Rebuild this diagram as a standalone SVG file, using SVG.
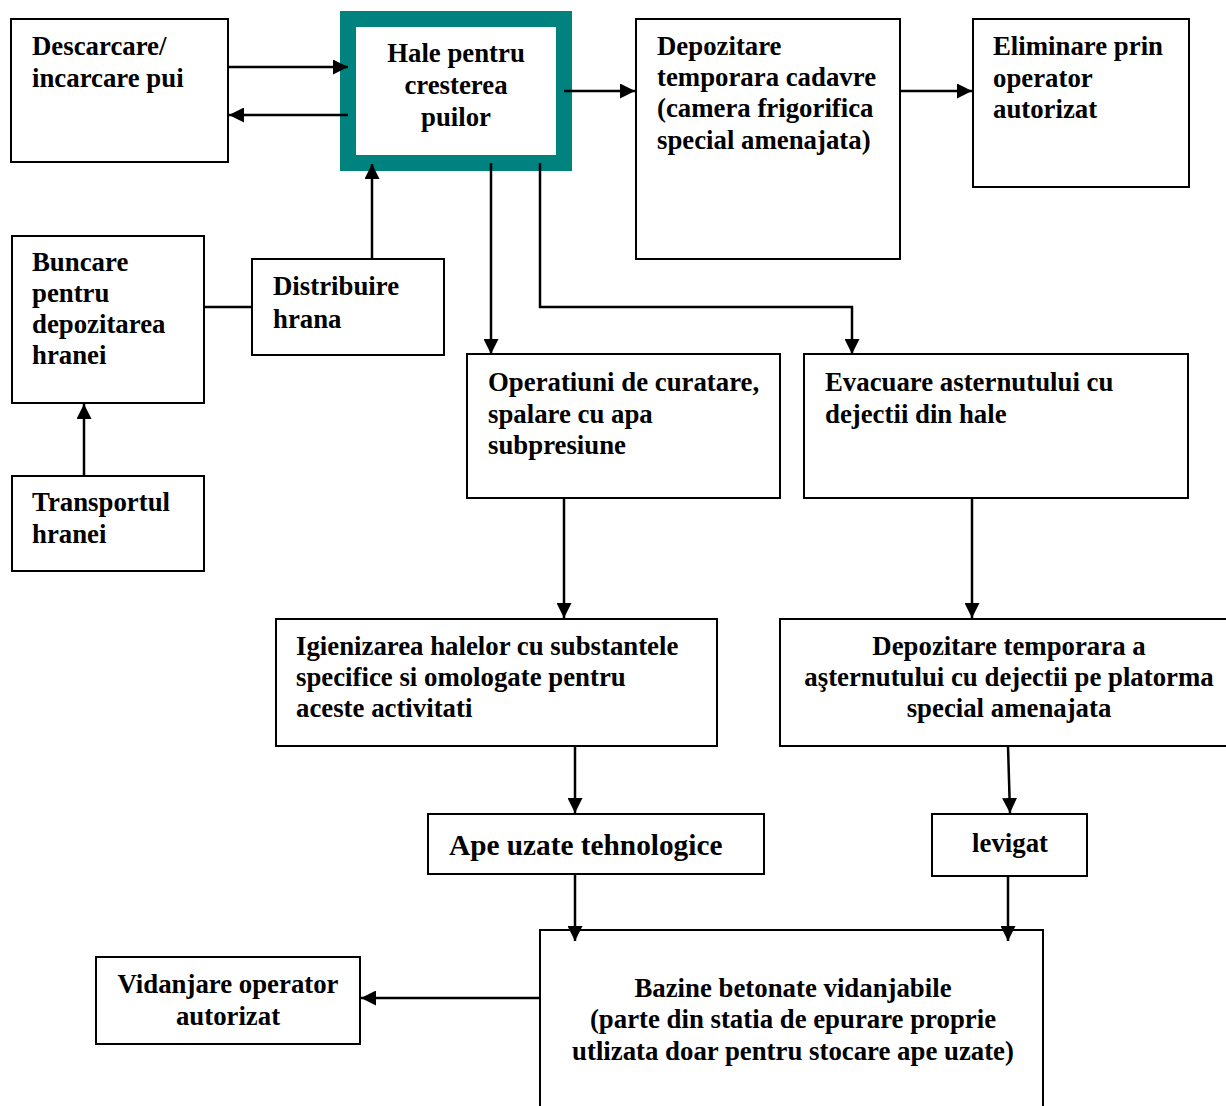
<svg xmlns="http://www.w3.org/2000/svg" width="1226" height="1106" viewBox="0 0 1226 1106">
<style>
.box{fill:#fff;stroke:#000;stroke-width:2}
.t{font-family:'Liberation Serif',serif;font-weight:bold;font-size:26.8px;fill:#000}
.c{text-anchor:middle}
.ln{fill:none;stroke:#000;stroke-width:2.5}
</style>
<defs>
<marker id="ah" viewBox="0 0 15 15" refX="15" refY="7.5" markerWidth="15" markerHeight="15" markerUnits="userSpaceOnUse" orient="auto">
<path d="M0,0 L15,7.5 L0,15 z" fill="#000"/>
</marker>
</defs>
<rect width="1226" height="1106" fill="#fff"/>

<g id="descarcare">
<rect class="box" x="11" y="19" width="217" height="143"/>
<text class="t" x="32" y="55" font-family="Liberation Serif">Descarcare/</text>
<text class="t" x="32" y="87" font-family="Liberation Serif">incarcare pui</text>
</g>

<g id="hale">
<rect x="348" y="19" width="216" height="144" fill="#fff" stroke="#00837f" stroke-width="16"/>
<text class="t c" x="456" y="62" font-family="Liberation Serif">Hale pentru</text>
<text class="t c" x="456" y="94" font-family="Liberation Serif">cresterea</text>
<text class="t c" x="456" y="126" font-family="Liberation Serif">puilor</text>
</g>

<g id="depozitare_cadavre">
<rect class="box" x="636" y="19" width="264" height="240"/>
<text class="t" x="657" y="55" font-family="Liberation Serif">Depozitare</text>
<text class="t" x="657" y="86" font-family="Liberation Serif">temporara cadavre</text>
<text class="t" x="657" y="117" font-family="Liberation Serif">(camera frigorifica</text>
<text class="t" x="657" y="149" font-family="Liberation Serif">special amenajata)</text>
</g>

<g id="eliminare">
<rect class="box" x="973" y="19" width="216" height="168"/>
<text class="t" x="993" y="55" font-family="Liberation Serif">Eliminare prin</text>
<text class="t" x="993" y="87" font-family="Liberation Serif">operator</text>
<text class="t" x="993" y="118" font-family="Liberation Serif">autorizat</text>
</g>

<g id="buncare">
<rect class="box" x="12" y="236" width="192" height="167"/>
<text class="t" x="32" y="271" font-family="Liberation Serif">Buncare</text>
<text class="t" x="32" y="302" font-family="Liberation Serif">pentru</text>
<text class="t" x="32" y="333" font-family="Liberation Serif">depozitarea</text>
<text class="t" x="32" y="364" font-family="Liberation Serif">hranei</text>
</g>

<g id="distribuire">
<rect class="box" x="252" y="259" width="192" height="96"/>
<text class="t" x="273" y="295" font-family="Liberation Serif">Distribuire</text>
<text class="t" x="273" y="328" font-family="Liberation Serif">hrana</text>
</g>

<g id="transportul">
<rect class="box" x="12" y="476" width="192" height="95"/>
<text class="t" x="32" y="511" font-family="Liberation Serif">Transportul</text>
<text class="t" x="32" y="543" font-family="Liberation Serif">hranei</text>
</g>

<g id="operatiuni">
<rect class="box" x="467" y="354" width="313" height="144"/>
<text class="t" x="488" y="391" font-family="Liberation Serif">Operatiuni de curatare,</text>
<text class="t" x="488" y="423" font-family="Liberation Serif">spalare cu apa</text>
<text class="t" x="488" y="454" font-family="Liberation Serif">subpresiune</text>
</g>

<g id="evacuare">
<rect class="box" x="804" y="354" width="384" height="144"/>
<text class="t" x="825" y="391" font-family="Liberation Serif">Evacuare asternutului cu</text>
<text class="t" x="825" y="423" font-family="Liberation Serif">dejectii din hale</text>
</g>

<g id="igienizarea">
<rect class="box" x="276" y="619" width="441" height="127"/>
<text class="t" x="296" y="655" font-family="Liberation Serif">Igienizarea halelor cu substantele</text>
<text class="t" x="296" y="686" font-family="Liberation Serif">specifice si omologate pentru</text>
<text class="t" x="296" y="717" font-family="Liberation Serif">aceste activitati</text>
</g>

<g id="depozitare_asternut">
<rect class="box" x="780" y="619" width="452" height="127"/>
<text class="t c" x="1009" y="655" font-family="Liberation Serif">Depozitare temporara a</text>
<text class="t c" x="1009" y="686" font-family="Liberation Serif">aşternutului cu dejectii pe platorma</text>
<text class="t c" x="1009" y="717" font-family="Liberation Serif">special amenajata</text>
</g>

<g id="ape_uzate">
<rect class="box" x="428" y="814" width="336" height="60"/>
<text class="t" x="449" y="855" font-family="Liberation Serif" style="font-size:29.3px">Ape uzate tehnologice</text>
</g>

<g id="levigat">
<rect class="box" x="932" y="814" width="155" height="62"/>
<text class="t c" x="1010" y="852" font-family="Liberation Serif">levigat</text>
</g>

<g id="bazine">
<rect class="box" x="540" y="930" width="503" height="190"/>
<text class="t c" x="793" y="997" font-family="Liberation Serif">Bazine betonate vidanjabile</text>
<text class="t c" x="793" y="1028" font-family="Liberation Serif">(parte din statia de epurare proprie</text>
<text class="t c" x="793" y="1060" font-family="Liberation Serif">utlizata doar pentru stocare ape uzate)</text>
</g>

<g id="vidanjare">
<rect class="box" x="96" y="957" width="264" height="87"/>
<text class="t c" x="228" y="993" font-family="Liberation Serif">Vidanjare operator</text>
<text class="t c" x="228" y="1025" font-family="Liberation Serif">autorizat</text>
</g>

<g id="connectors">
<line class="ln" x1="228" y1="67" x2="348" y2="67" marker-end="url(#ah)"/>
<line class="ln" x1="348" y1="115" x2="229" y2="115" marker-end="url(#ah)"/>
<line class="ln" x1="564" y1="91" x2="635" y2="91" marker-end="url(#ah)"/>
<line class="ln" x1="901" y1="91" x2="972" y2="91" marker-end="url(#ah)"/>
<line class="ln" x1="372" y1="259" x2="372" y2="164" marker-end="url(#ah)"/>
<line class="ln" x1="204" y1="307" x2="252" y2="307" stroke-width="2"/>
<line class="ln" x1="84" y1="476" x2="84" y2="404" marker-end="url(#ah)"/>
<line class="ln" x1="491" y1="163" x2="491" y2="354" marker-end="url(#ah)"/>
<polyline class="ln" points="540,163 540,307 852,307 852,354" stroke-width="2" marker-end="url(#ah)"/>
<line class="ln" x1="564" y1="498" x2="564" y2="618" stroke-width="2" marker-end="url(#ah)"/>
<line class="ln" x1="972" y1="498" x2="972" y2="618" stroke-width="2" marker-end="url(#ah)"/>
<line class="ln" x1="575" y1="746" x2="575" y2="813" stroke-width="2" marker-end="url(#ah)"/>
<line class="ln" x1="1008" y1="746" x2="1010" y2="813" stroke-width="2" marker-end="url(#ah)"/>
<line class="ln" x1="575" y1="874" x2="575" y2="941" stroke-width="2" marker-end="url(#ah)"/>
<line class="ln" x1="1008" y1="876" x2="1008" y2="941" stroke-width="2" marker-end="url(#ah)"/>
<line class="ln" x1="540" y1="998" x2="361" y2="998" stroke-width="3" marker-end="url(#ah)"/>
</g>
</svg>
